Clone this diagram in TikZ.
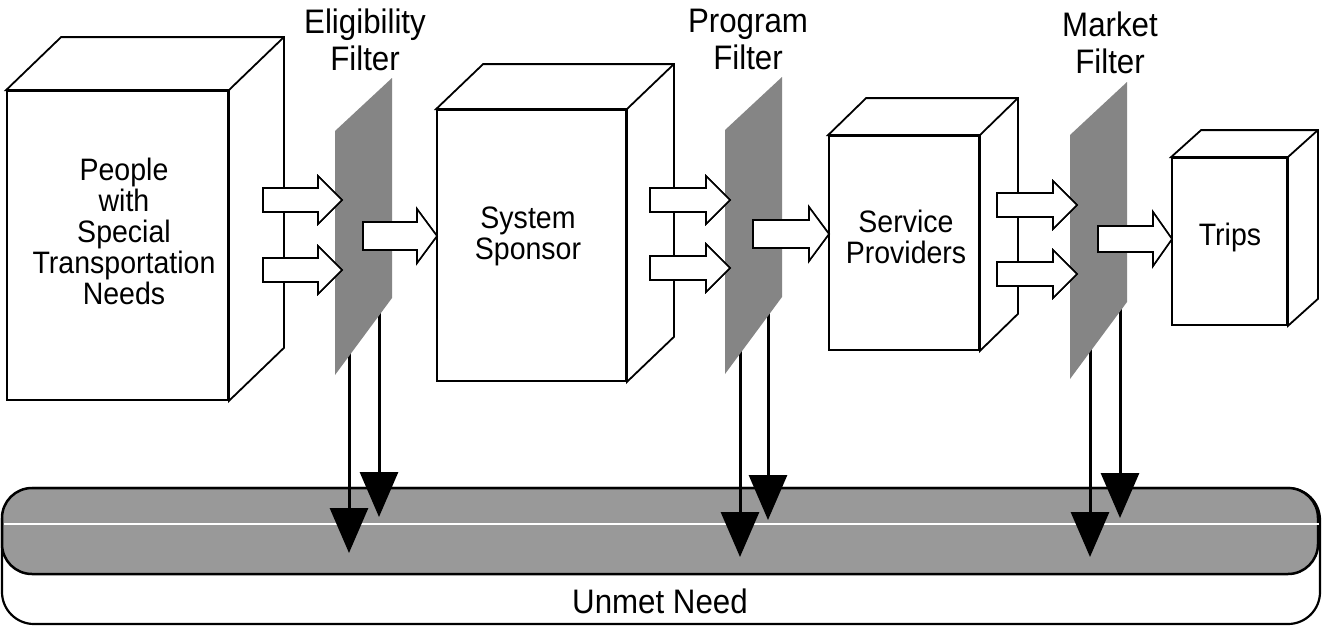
\documentclass[tikz,border=0pt]{standalone}
\usepackage{fontspec}
\setmainfont{Liberation Sans}[FakeStretch=0.92]
\usetikzlibrary{arrows.meta,calc}

\tikzset{
  face/.style={draw=black, line width=1.8pt, fill=white, inner sep=0pt},
  edge/.style={draw=black, line width=1.8pt, line join=miter, fill=white},
  filterpanel/.style={fill=black!48},
  boxtext/.style={font=\fontsize{31}{31}\selectfont, align=center, inner sep=0pt, anchor=north},
  filterlabel/.style={font=\fontsize{34}{37}\selectfont, align=center, inner sep=0pt, anchor=north},
  flowbody/.style={fill=white, draw=black, line width=1.6pt, line join=miter},
  flowshadow/.style={fill=black, draw=black, line width=1.6pt, line join=miter},
  lossarrow/.style={line width=3pt, -{Triangle[width=38pt, length=45pt]}},
  needouter/.style={draw=black, line width=2.2pt, fill=white, rounded corners=32pt, inner sep=0pt},
  needinner/.style={draw=black, line width=2.5pt, fill=black!40, rounded corners=30pt, inner sep=0pt},
}

% side and top faces of a box whose front face is node #1
\newcommand\cubeback[3]{%
  \path[edge] (#1.north west) -- ++(#2,-#3) -- ($(#1.north east)+(#2,-#3)$)
    -- ($(#1.south east)+(#2,-#3)$) -- (#1.south east) -- (#1.north east) -- cycle;
  \draw[edge, fill=none] (#1.north east) -- ++(#2,-#3);
}

% hollow block arrow with a dark drop shadow: tail, tip, body half, head half, head length
\newcommand\flowarrow[5]{%
  \path[flowshadow, xshift=1pt, yshift=-3pt] let \p1=(#1), \p2=(#2) in
    (\x1,\y1+#3) -- (\x2-#5,\y1+#3) -- (\x2-#5,\y1+#4) -- (\x2,\y1)
    -- (\x2-#5,\y1-#4) -- (\x2-#5,\y1-#3) -- (\x1,\y1-#3) -- cycle;
  \path[flowbody] let \p1=(#1), \p2=(#2) in
    (\x1,\y1+#3) -- (\x2-#5,\y1+#3) -- (\x2-#5,\y1+#4) -- (\x2,\y1)
    -- (\x2-#5,\y1-#4) -- (\x2-#5,\y1-#3) -- (\x1,\y1-#3) -- cycle;
}

\begin{document}
\begin{tikzpicture}[x=1pt, y=-1pt]
\fill[white] (0,0) rectangle (1322,627);
\useasboundingbox (0,0) rectangle (1322,627);

% unmet need stream
\node[needouter, minimum width=1318pt, minimum height=136pt] (needband) at (661,556) {};
\node[needinner, minimum width=1316pt, minimum height=86pt] (needstream) at (660,531) {};
\draw[white, line width=2pt] (needstream.west |- 0,524) ++(3,0) coordinate (stripeL)
  -- (needstream.east |- 0,524) coordinate (stripeR);
\node[font=\fontsize{34}{34}\selectfont, inner sep=0pt] (needlabel) at (660,601) {Unmet Need};

% losses dropping from each filter into the stream
\coordinate (e1a) at (349,345); \coordinate (n1a) at (349,553);
\coordinate (e1b) at (379,305); \coordinate (n1b) at (379,517);
\coordinate (e2a) at (740,345); \coordinate (n2a) at (740,557);
\coordinate (e2b) at (768,307); \coordinate (n2b) at (768,520);
\coordinate (e3a) at (1090,342); \coordinate (n3a) at (1090,557);
\coordinate (e3b) at (1120,303); \coordinate (n3b) at (1120,518);
\foreach \f in {1a,1b,2a,2b,3a,3b}
  \draw[lossarrow] (e\f) -- (n\f);

% boxes
\node[face, minimum width=221pt, minimum height=309pt] (people) at (117.5,245.5) {};
\cubeback{people}{55}{53}
\node[face, minimum width=189pt, minimum height=271pt] (sponsor) at (531.5,245.5) {};
\cubeback{sponsor}{47}{45}
\node[face, minimum width=150pt, minimum height=214pt] (providers) at (904,243) {};
\cubeback{providers}{38}{37}
\node[face, minimum width=115pt, minimum height=167pt] (trips) at (1229.5,241.5) {};
\cubeback{trips}{30}{27}

\node[boxtext] (peopletext) at (124,158) {People\\with\\Special\\Transportation\\Needs};
\node[boxtext] (sponsortext) at (528,207) {System\\Sponsor};
\node[boxtext] (providerstext) at (906,210) {Service\\Providers};
\node[boxtext] (tripstext) at (1230,223) {Trips};

% filters
\foreach \r/\t [count=\i] in {392/0, 782/-1, 1127/4} {
  \begin{scope}[shift={(\r,\t)}]
    \fill[filterpanel] (0,78) coordinate (filter\i top) -- (-57,131)
      -- (-57,375) coordinate (filter\i tip) -- (0,298) -- cycle;
  \end{scope}
}
\node[filterlabel] (eligibility) at (365,9) {Eligibility\\Filter};
\node[filterlabel] (program) at (748,9) {Program\\Filter};
\node[filterlabel] (market) at (1110,12) {Market\\Filter};

% flows into and out of each filter
\coordinate (a1) at (263,200); \coordinate (b1) at (342,200);
\coordinate (a2) at (263,270); \coordinate (b2) at (342,270);
\coordinate (a3) at (363,236); \coordinate (b3) at (437,236);
\flowarrow{a1}{b1}{12pt}{24pt}{24pt}
\flowarrow{a2}{b2}{12pt}{24pt}{24pt}
\flowarrow{a3}{b3}{14pt}{27pt}{20pt}

\coordinate (c1) at (650,200); \coordinate (d1) at (730,200);
\coordinate (c2) at (650,268); \coordinate (d2) at (730,268);
\coordinate (c3) at (753,234); \coordinate (d3) at (829,234);
\flowarrow{c1}{d1}{12pt}{24pt}{24pt}
\flowarrow{c2}{d2}{12pt}{24pt}{24pt}
\flowarrow{c3}{d3}{14pt}{27pt}{20pt}

\coordinate (g1) at (997,205); \coordinate (h1) at (1077,205);
\coordinate (g2) at (997,274); \coordinate (h2) at (1077,274);
\coordinate (g3) at (1098,239); \coordinate (h3) at (1172,239);
\flowarrow{g1}{h1}{12pt}{24pt}{24pt}
\flowarrow{g2}{h2}{12pt}{24pt}{24pt}
\flowarrow{g3}{h3}{13pt}{27pt}{19pt}
\end{tikzpicture}
\end{document}
